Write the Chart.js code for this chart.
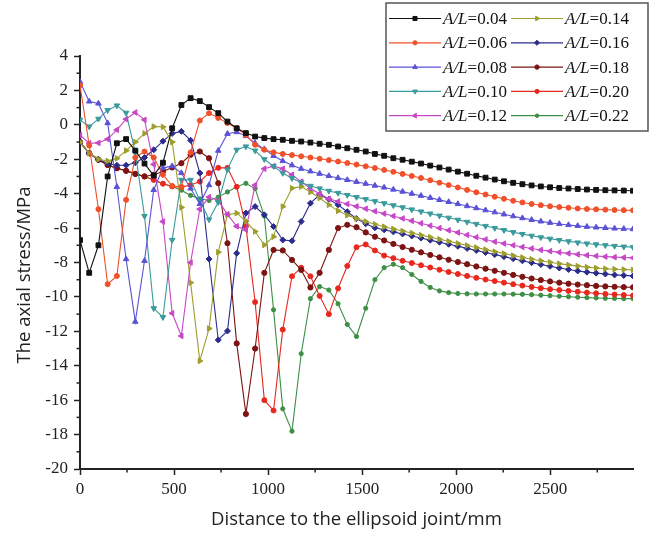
<!DOCTYPE html>
<html><head><meta charset="utf-8">
<script src="https://cdn.jsdelivr.net/npm/chart.js@4.4.1/dist/chart.umd.min.js"></script>
<style>html,body{margin:0;padding:0;background:#fff;}#wrap{width:660px;height:536px;}</style>
</head><body><div id="wrap"><canvas id="c" width="660" height="536"></canvas></div>
<script>
const distances = [0,49,98,147,196,245,294,343,392,441,490,539,588,637,686,735,784,833,882,931,980,1029,1078,1127,1176,1225,1274,1323,1372,1421,1470,1519,1568,1617,1666,1715,1764,1813,1862,1911,1960,2009,2058,2107,2156,2205,2254,2303,2352,2401,2450,2499,2548,2597,2646,2695,2744,2793,2842,2891,2940];
const seriesLabels = ['A/L=0.04','A/L=0.06','A/L=0.08','A/L=0.10','A/L=0.12','A/L=0.14','A/L=0.16','A/L=0.18','A/L=0.20','A/L=0.22'];
const xTickValues = [0,500,1000,1500,2000,2500];
const yTickValues = [4,2,0,-2,-4,-6,-8,-10,-12,-14,-16,-18,-20];
const xTitle = 'Distance to the ellipsoid joint/mm';
const yTitle = 'The axial stress/MPa';

const s004 = [-6.7,-8.6,-7.0,-3.0,-1.07,-0.83,-1.5,-2.25,-2.95,-2.2,
-0.2,1.15,1.55,1.38,1.03,0.68,0.19,-0.2,-0.48,-0.68,
-0.77,-0.83,-0.87,-0.93,-0.97,-1.03,-1.1,-1.16,-1.26,-1.36,
-1.45,-1.55,-1.69,-1.8,-1.94,-2.03,-2.14,-2.25,-2.37,-2.48,
-2.6,-2.72,-2.84,-2.96,-3.07,-3.18,-3.28,-3.37,-3.45,-3.52,
-3.58,-3.63,-3.67,-3.7,-3.73,-3.76,-3.78,-3.8,-3.81,-3.82,
-3.83];
const s006 = [2.3,-1.2,-4.9,-9.26,-8.78,-4.36,-1.9,-1.55,-1.9,-2.9,
-3.55,-3.6,-1.6,0.25,0.68,0.4,0.1,-0.2,-0.58,-1.16,
-1.45,-1.6,-1.69,-1.76,-1.83,-1.9,-1.97,-2.05,-2.13,-2.22,
-2.31,-2.41,-2.51,-2.62,-2.73,-2.85,-2.97,-3.09,-3.22,-3.36,
-3.5,-3.64,-3.78,-3.92,-4.05,-4.18,-4.3,-4.41,-4.51,-4.6,
-4.67,-4.73,-4.78,-4.82,-4.86,-4.89,-4.91,-4.93,-4.95,-4.96,
-4.97];
const s008 = [2.5,1.36,1.24,0.1,-3.6,-7.8,-11.44,-7.9,-3.78,-2.5,
-2.4,-2.8,-3.7,-4.6,-3.5,-1.5,-0.52,-0.42,-0.65,-1.06,
-1.41,-1.8,-2.1,-2.35,-2.55,-2.7,-2.84,-2.97,-3.09,-3.2,
-3.31,-3.42,-3.53,-3.64,-3.76,-3.88,-4.0,-4.12,-4.24,-4.36,
-4.48,-4.6,-4.72,-4.84,-4.96,-5.08,-5.2,-5.31,-5.42,-5.52,
-5.61,-5.69,-5.76,-5.82,-5.87,-5.92,-5.96,-5.99,-6.02,-6.04,
-6.06];
const s010 = [0.29,-0.1,0.35,0.85,1.12,0.7,-1.6,-5.3,-10.66,-11.18,
-6.69,-3.2,-3.2,-4.4,-5.5,-4.5,-2.6,-1.45,-1.26,-1.5,
-2.0,-2.4,-2.8,-3.1,-3.35,-3.55,-3.7,-3.84,-3.96,-4.08,
-4.2,-4.32,-4.44,-4.56,-4.68,-4.8,-4.92,-5.04,-5.16,-5.28,
-5.4,-5.52,-5.64,-5.76,-5.88,-6.0,-6.12,-6.24,-6.35,-6.45,
-6.54,-6.62,-6.7,-6.77,-6.84,-6.9,-6.95,-7.0,-7.04,-7.08,
-7.11];
const s012 = [-0.6,-1.07,-1.05,-0.83,-0.29,0.33,0.72,0.29,-2.3,-5.62,
-10.95,-12.27,-8.0,-4.9,-4.2,-4.4,-5.2,-5.9,-6.1,-3.5,
-2.55,-2.4,-2.55,-2.9,-3.3,-3.7,-4.0,-4.3,-4.45,-4.6,
-4.74,-4.88,-5.02,-5.16,-5.3,-5.44,-5.58,-5.72,-5.86,-6.0,
-6.13,-6.26,-6.4,-6.53,-6.66,-6.79,-6.9,-7.0,-7.1,-7.19,
-7.27,-7.34,-7.41,-7.47,-7.53,-7.58,-7.62,-7.66,-7.69,-7.71,
-7.73];
const s014 = [-1.0,-1.65,-2.0,-2.1,-1.95,-1.5,-1.0,-0.5,-0.1,-0.12,
-1.0,-4.8,-9.17,-13.72,-11.84,-7.4,-5.23,-5.13,-5.6,-6.2,
-6.98,-6.5,-4.75,-3.68,-3.59,-3.9,-4.25,-4.65,-5.0,-5.25,
-5.45,-5.62,-5.78,-5.92,-6.05,-6.17,-6.29,-6.41,-6.53,-6.65,
-6.77,-6.89,-7.01,-7.13,-7.25,-7.37,-7.48,-7.6,-7.71,-7.81,
-7.9,-7.99,-8.07,-8.14,-8.21,-8.27,-8.32,-8.36,-8.39,-8.41,
-8.43];
const s016 = [-1.0,-1.65,-2.0,-2.25,-2.35,-2.35,-2.2,-1.9,-1.45,-0.95,
-0.5,-0.38,-0.9,-2.8,-7.8,-12.5,-11.98,-7.46,-5.13,-4.75,
-5.23,-5.91,-6.69,-6.74,-5.62,-4.55,-4.07,-4.32,-4.65,-5.05,
-5.45,-5.75,-5.98,-6.1,-6.22,-6.34,-6.46,-6.58,-6.7,-6.82,
-6.94,-7.06,-7.18,-7.3,-7.42,-7.54,-7.66,-7.78,-7.9,-8.01,
-8.12,-8.22,-8.32,-8.41,-8.49,-8.56,-8.62,-8.67,-8.72,-8.75,
-8.78];
const s018 = [-1.0,-1.65,-2.03,-2.33,-2.52,-2.67,-2.85,-3.0,-2.9,-2.71,
-2.48,-2.23,-1.74,-1.55,-1.94,-3.39,-6.88,-12.7,-16.8,-13.0,
-8.6,-7.27,-7.3,-7.85,-8.43,-9.45,-8.6,-7.27,-6.0,-5.81,
-5.95,-6.25,-6.5,-6.72,-6.92,-7.1,-7.26,-7.41,-7.56,-7.7,
-7.84,-7.97,-8.1,-8.23,-8.36,-8.48,-8.6,-8.72,-8.83,-8.93,
-9.02,-9.1,-9.17,-9.23,-9.28,-9.32,-9.36,-9.39,-9.41,-9.43,
-9.44];
const s020 = [-1.0,-1.65,-2.03,-2.33,-2.52,-2.67,-2.85,-3.0,-3.2,-3.42,
-3.58,-3.62,-3.5,-3.3,-2.8,-2.5,-2.5,-3.6,-5.9,-10.3,
-16.0,-16.6,-11.9,-8.8,-8.3,-8.8,-9.94,-11.0,-9.5,-8.2,
-7.11,-6.95,-7.3,-7.6,-7.75,-7.9,-8.03,-8.16,-8.29,-8.42,
-8.55,-8.67,-8.78,-8.89,-8.99,-9.08,-9.17,-9.26,-9.34,-9.42,
-9.49,-9.55,-9.6,-9.65,-9.7,-9.75,-9.79,-9.83,-9.86,-9.89,
-9.92];
const s022 = [-1.0,-1.65,-2.03,-2.33,-2.52,-2.67,-2.85,-3.0,-3.2,-3.42,
-3.58,-3.8,-4.1,-4.3,-4.4,-4.2,-3.9,-3.6,-3.4,-3.7,
-5.3,-10.75,-16.5,-17.8,-13.3,-10.1,-9.4,-9.6,-10.4,-11.6,
-12.3,-10.66,-9.0,-8.3,-8.1,-8.3,-8.7,-9.1,-9.45,-9.65,
-9.75,-9.8,-9.82,-9.83,-9.83,-9.83,-9.83,-9.84,-9.85,-9.87,
-9.9,-9.93,-9.96,-9.99,-10.02,-10.04,-10.06,-10.08,-10.09,-10.1,
-10.1];

const seriesValues = [s004,s006,s008,s010,s012,s014,s016,s018,s020,s022];

// styles (kept apart from data)
const serifFamily = '"Liberation Serif", "Times New Roman", Times, serif';
const sansFamily = '"Open Sans", "Noto Sans", sans-serif';
const lineColors = ['#111111','#f0502a','#5a52d6','#3a9a9c','#c748c7','#9e9e2e','#2c2c8c','#7d1414','#e8281e','#3d8f45'];
const markerStyles = ['rect','circle','triangle','triangle','triangle','triangle','rectRot','circle','circle','circle'];
const markerRotations = [0,0,0,180,-90,90,0,0,0,0];
const markerRadii = [3.4,2.5,3.2,3.2,3.2,3.2,3.0,2.6,2.5,2.1];

const datasets = seriesValues.map((vals, k) => ({
  label: seriesLabels[k],
  data: distances.map((d, i) => ({x: d, y: vals[i]})),
  borderColor: lineColors[k],
  backgroundColor: lineColors[k],
  pointBackgroundColor: lineColors[k],
  pointBorderColor: lineColors[k],
  pointStyle: markerStyles[k],
  pointRotation: markerRotations[k],
  pointRadius: markerRadii[k],
  pointBorderWidth: 1,
  borderWidth: 1.1,
  tension: 0,
  fill: false
}));

const boxLegend = {
  id: 'boxLegend',
  afterDraw(chart) {
    const ctx = chart.ctx;
    const ds = chart.data.datasets;
    ctx.save();
    const bx = 386, by = 3, bw = 262, bh = 128;
    ctx.fillStyle = '#fff';
    ctx.fillRect(bx, by, bw, bh);
    ctx.strokeStyle = '#555';
    ctx.lineWidth = 1.5;
    ctx.strokeRect(bx, by, bw, bh);
    ds.forEach((d, k) => {
      const col = Math.floor(k / 5), row = k % 5;
      const lx = col === 0 ? 389 : 511;
      const ly = 18.5 + row * 24.3;
      ctx.strokeStyle = d.borderColor;
      ctx.lineWidth = 1.2;
      ctx.beginPath(); ctx.moveTo(lx, ly); ctx.lineTo(lx + 52, ly); ctx.stroke();
      ctx.fillStyle = d.pointBackgroundColor;
      ctx.strokeStyle = d.pointBorderColor;
      ctx.lineWidth = 1;
      Chart.helpers.drawPoint(ctx, {pointStyle: d.pointStyle, radius: d.pointRadius * 0.85, rotation: d.pointRotation || 0, borderWidth: 1}, lx + 26, ly);
      const parts = d.label.split('=');
      ctx.fillStyle = '#111';
      ctx.textBaseline = 'middle';
      ctx.textAlign = 'left';
      ctx.font = 'italic 17px ' + serifFamily;
      let tx = lx + 54;
      ctx.fillText(parts[0], tx, ly + 1);
      tx += ctx.measureText(parts[0]).width;
      ctx.font = '17px ' + serifFamily;
      ctx.fillText('=' + parts[1], tx, ly + 1);
    });
    ctx.restore();
  }
};

const yTitlePlugin = {
  id: 'yTitle',
  afterDraw(chart) {
    const ctx = chart.ctx;
    ctx.save();
    ctx.translate(25, 275);
    ctx.rotate(-Math.PI / 2);
    ctx.font = '18.5px ' + sansFamily;
    ctx.fillStyle = '#222';
    ctx.textAlign = 'center';
    ctx.textBaseline = 'middle';
    ctx.fillText(yTitle, 0, 0);
    ctx.restore();
  }
};

const minorTicks = {
  id: 'minorTicks',
  afterDraw(chart) {
    const {ctx, scales: {x, y}} = chart;
    ctx.save();
    ctx.strokeStyle = '#222';
    ctx.lineWidth = 1.5;
    for (let k = 0; k < yTickValues.length - 1; k++) {
      const py = y.getPixelForValue((yTickValues[k] + yTickValues[k + 1]) / 2);
      ctx.beginPath(); ctx.moveTo(x.left, py); ctx.lineTo(x.left - 3.5, py); ctx.stroke();
    }
    for (let k = 0; k < xTickValues.length; k++) {
      const v = xTickValues[k] + 250;
      if (v > x.max) break;
      const px = x.getPixelForValue(v);
      ctx.beginPath(); ctx.moveTo(px, y.bottom); ctx.lineTo(px, y.bottom + 3.5); ctx.stroke();
    }
    ctx.restore();
  }
};

new Chart(document.getElementById('c'), {
  type: 'line',
  data: {datasets},
  options: {
    responsive: false,
    animation: false,
    devicePixelRatio: 1,
    layout: {padding: {top: 56, right: 27, left: 0, bottom: 0}},
    plugins: {legend: {display: false}, tooltip: {enabled: false}},
    scales: {
      x: {
        type: 'linear', min: 0, max: 2940,
        afterBuildTicks: (s) => { s.ticks = xTickValues.map(v => ({value: v})); },
        afterFit: (s) => { s.height = 67; },
        ticks: {font: {family: serifFamily, size: 17}, color: '#222', padding: 4, maxRotation: 0, callback: (v) => String(v)},
        grid: {drawOnChartArea: false, drawTicks: true, tickLength: 6, tickColor: '#222', tickWidth: 1.5},
        border: {display: true, color: '#222', width: 2},
        title: {display: true, text: xTitle, font: {family: sansFamily, size: 18.5}, color: '#222', padding: {top: 0, bottom: 5}}
      },
      y: {
        type: 'linear', min: -20, max: 4,
        afterBuildTicks: (s) => { s.ticks = yTickValues.map(v => ({value: v})); },
        afterFit: (s) => { s.width = 80; },
        ticks: {font: {family: serifFamily, size: 17}, color: '#222', padding: 6, callback: (v) => String(v)},
        grid: {drawOnChartArea: false, drawTicks: true, tickLength: 6, tickColor: '#222', tickWidth: 1.5},
        border: {display: true, color: '#222', width: 2},
        title: {display: false, text: yTitle}
      }
    }
  },
  plugins: [minorTicks, boxLegend, yTitlePlugin]
});
</script>
</body></html>
